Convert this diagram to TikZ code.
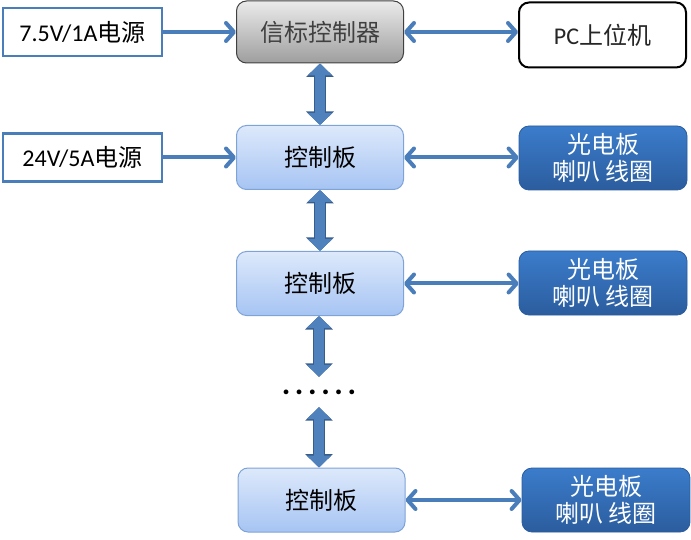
\documentclass[tikz,border=0pt]{standalone}
\usepackage{fontspec}
\setmainfont{Carlito}
\newfontfamily\cjk{Noto Sans CJK SC}
\usetikzlibrary{arrows.meta}
\definecolor{lineblue}{HTML}{4A7EBB}
\definecolor{fatfill}{HTML}{4F81BD}
\definecolor{fatline}{HTML}{385D8A}
\definecolor{boardtop}{HTML}{DDE9FB}
\definecolor{boardbot}{HTML}{A6C4F3}
\definecolor{boardline}{HTML}{7EA3D6}
\definecolor{unittop}{HTML}{3B7CCB}
\definecolor{unitbot}{HTML}{2B5D9E}
\newcommand{\zh}[1]{{\cjk #1}}
\newcommand{\sixdots}{{\bfseries .\hskip4.6pt.\hskip4.6pt.\hskip4.6pt.\hskip4.6pt.\hskip4.6pt.}}

\begin{document}
\begin{tikzpicture}[x=1pt,y=1pt,
  every node/.style={font=\fontsize{24}{27}\selectfont, inner sep=0pt, align=center},
  power/.style={draw=lineblue, line width=2.5pt, fill=white, minimum width=159pt, minimum height=48pt},
  beacon/.style={draw=black!75, line width=1pt, rounded corners=10pt, top color=black!8, bottom color=black!38,
    text=black!75, minimum width=167pt, minimum height=62pt},
  host/.style={draw=black, line width=2pt, rounded corners=10pt, fill=white, text=black!85,
    minimum width=167pt, minimum height=65pt},
  board/.style={draw=boardline, line width=1pt, rounded corners=10pt, top color=boardtop,
    bottom color=boardbot, minimum width=167pt, minimum height=64pt},
  unit/.style={draw=unitbot, line width=0.8pt, rounded corners=10pt, top color=unittop,
    bottom color=unitbot, text=white, minimum width=168pt, minimum height=64pt},
  link/.style={draw=lineblue, line width=4pt, {Straight Barb[width=18pt,length=8pt,round]}-{Straight Barb[width=18pt,length=8pt,round]}},
  feed/.style={draw=lineblue, line width=4pt, -{Straight Barb[width=18pt,length=8pt,round]}},
  fat/.style={draw=fatfill, line width=10pt, {Triangle[width=24pt,length=12pt]}-{Triangle[width=24pt,length=12pt]},
    preaction={draw=fatline, line width=12pt, {Triangle[width=27pt,length=13.5pt]}-{Triangle[width=27pt,length=13.5pt]}}}]
\useasboundingbox (0,0) rectangle (691,539);

\node[power] (p1) at (82.5,507) {7.5V/1A\zh{电源}};
\node[beacon] (bk) at (320,507) {\zh{信标控制器}};
\node[host] (pc) at (602.5,504) {PC\zh{上位机}};

\node[power] (p2) at (82.5,381.5) {24V/5A\zh{电源}};
\node[board] (cb1) at (320,381.5) {\zh{控制板}};
\node[unit] (gd1) at (603,381) {\zh{光电板}\\\zh{喇叭 线圈}};

\node[board] (cb2) at (320,255.5) {\zh{控制板}};
\node[unit] (gd2) at (603,256) {\zh{光电板}\\\zh{喇叭 线圈}};

\node[minimum height=30pt, minimum width=70pt, font=\fontsize{32}{34}\selectfont] (dots) at (319,147) {\sixdots};

\node[board] (cb3) at (321.5,39) {\zh{控制板}};
\node[unit] (gd3) at (606,39) {\zh{光电板}\\\zh{喇叭 线圈}};

\draw[feed] (p1.east) -- (bk.west);
\draw[feed] (p2.east) -- (cb1.west);
\draw[link] (bk.east) -- (bk.east -| pc.west);
\draw[link] (cb1.east) -- (cb1.east -| gd1.west);
\draw[link] (cb2.east) -- (cb2.east -| gd2.west);
\draw[link] (cb3.east) -- (cb3.east -| gd3.west);

\draw[fat] (bk.south) -- (cb1.north);
\draw[fat] (cb1.south) -- (cb2.north);
\draw[fat] (cb2.south -| dots.north) -- (dots.north);
\draw[fat] (dots.south) -- (dots.south |- cb3.north);
\end{tikzpicture}
\end{document}
